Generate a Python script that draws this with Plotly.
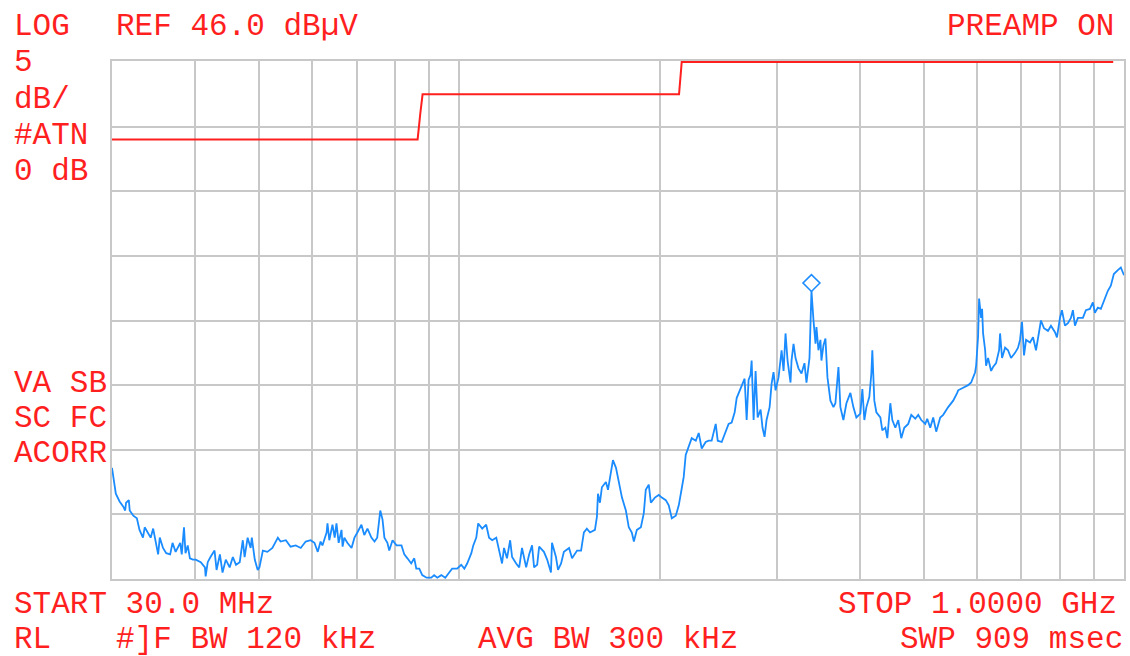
import math
import plotly.graph_objects as go

# ---- data read from the analyzer screen ----
# sweep 30 MHz .. 1 GHz, log frequency axis, REF 46 dBuV, 5 dB/div
band1_mhz = [30.0, 30.3, 30.4, 30.8, 31.2, 31.4, 31.5, 31.8, 31.9, 32.3, 32.7, 33.0, 33.4, 33.6, 34.0,
             34.3, 34.6, 34.9, 35.2, 35.4, 35.8, 36.2, 36.7, 37.0, 37.4, 38.0, 38.2, 38.5, 38.7, 39.0,
             39.3, 39.7, 40.1, 40.8, 41.4, 41.5, 41.8, 42.2, 42.8, 43.1, 43.6, 44.0, 44.5, 45.1, 45.6,
             46.1, 46.7, 47.2, 47.5, 48.0, 48.5, 48.7, 49.2, 49.7, 50.0, 50.6, 51.4, 52.3, 53.3, 53.8,
             54.8, 55.7, 56.7, 57.7, 58.7, 59.7, 60.5, 61.2, 61.8]
band1_dbuv = [14.6, 12.9, 12.6, 12.0, 11.6, 11.3, 11.9, 12.1, 11.3, 10.9, 10.7, 9.8, 9.2, 10.0, 9.6,
              9.2, 9.9, 8.9, 7.9, 9.2, 8.4, 8.0, 7.9, 8.8, 8.1, 8.8, 7.9, 10.0, 8.0, 8.6,
              7.6, 7.5, 7.5, 7.3, 6.9, 6.2, 7.3, 7.7, 8.2, 6.7, 7.9, 6.5, 7.5, 6.9, 7.7,
              7.1, 7.3, 9.0, 7.7, 9.2, 8.4, 9.2, 7.5, 6.7, 6.9, 8.2, 8.1, 8.4, 9.2, 8.9,
              9.0, 8.5, 8.6, 8.4, 8.9, 9.0, 8.8, 8.1, 8.9]

band2_mhz = [62.2, 63.1, 63.3, 63.7, 64.4, 64.9, 65.3, 65.8, 66.45, 66.7, 67.1, 67.8, 68.8, 69.5, 70.2,
             71.2, 71.9, 72.7, 73.7, 74.5, 75.2, 76.0, 76.6, 77.1, 77.9, 78.4, 79.3, 80.4, 81.8, 82.6,
             83.5, 84.6, 85.5, 86.1, 87.0, 87.9, 89.2, 90.7, 91.6, 92.6, 93.9, 95.2, 96.5, 97.5, 99.2,
             100.6, 101.7, 102.7, 104.2, 104.9, 106.0, 106.7, 108.2, 109.7, 110.8, 112.0, 113.6, 114.7,
             115.9, 116.7, 117.9, 119.2, 120.0, 121.7, 123.0, 124.2, 126.0, 127.3, 128.6, 129.5, 130.9]
band2_dbuv = [8.6, 9.6, 10.3, 9.0, 10.2, 9.2, 10.3, 8.8, 9.8, 8.5, 9.2, 8.8, 8.4, 9.2, 9.6,
              10.2, 9.4, 9.9, 9.2, 8.9, 9.2, 11.3, 10.6, 9.2, 8.8, 8.2, 9.0, 8.6, 8.6, 7.9,
              7.6, 7.2, 7.6, 6.8, 6.8, 6.3, 6.1, 6.1, 6.3, 6.1, 6.3, 6.1, 6.5, 6.8, 6.8,
              7.1, 6.8, 7.2, 8.0, 8.6, 9.2, 10.3, 9.9, 10.2, 9.2, 9.0, 9.2, 8.2,
              7.2, 8.4, 7.6, 9.0, 7.7, 7.2, 6.9, 8.4, 6.9, 7.9, 8.6, 6.9, 7.1]

band3_mhz = [131.8, 134.0, 135.5, 137.3, 137.8, 139.7, 140.7, 142.2, 143.6, 146.2, 147.7, 150.3, 152.4,
             153.9, 155.5, 157.2, 159.9, 161.0, 161.6, 162.7, 163.8, 166.1, 167.3, 169.0, 170.2, 172.0,
             173.1, 175.6, 178.0, 179.8, 181.7, 183.0, 184.9, 187.5, 189.4, 190.7, 192.7, 194.1, 196.8,
             199.5, 201.6, 204.4, 206.5, 208.7, 211.6, 213.8, 216.0, 217.5, 219.0, 221.3, 223.6, 226.8,
             229.1, 231.5, 234.7, 237.2, 239.6, 243.0, 244.7, 248.1, 251.5, 254.1, 256.8, 259.5, 261.3, 264.9]
band3_dbuv = [8.5, 8.1, 7.5, 6.5, 8.8, 7.7, 6.7, 7.2, 8.1, 8.4, 7.6, 8.2, 8.2,
              9.6, 9.9, 9.6, 9.8, 10.8, 12.6, 11.9, 13.1, 13.5, 12.9, 14.2, 15.2, 14.6,
              13.9, 12.3, 11.3, 10.0, 9.6, 8.9, 9.8, 10.0, 11.1, 12.9, 13.3, 11.9, 12.3,
              12.5, 12.3, 12.1, 11.7, 10.7, 10.9, 11.7, 13.0, 13.9, 15.6, 16.3, 16.9, 16.7,
              17.3, 16.1, 16.6, 16.7, 16.7, 18.0, 16.7, 16.6, 17.5, 18.0, 18.1, 18.9, 20.0, 20.7]

band4_mhz = [268.6, 270.5, 272.3, 274.2, 275.2, 277.1, 279.0, 281.0, 283.9, 285.8, 287.8, 289.8, 292.9,
             294.9, 296.9, 299.0, 302.1, 305.3, 307.4, 309.5, 311.7, 314.9, 316.0, 318.2, 320.4, 323.7,
             327.1, 330.5, 332.8, 336.3, 337.5, 338.6, 341.0, 343.4, 344.5, 346.9, 349.3, 350.5, 353.0,
             355.4, 357.9, 361.6, 365.4, 367.9, 371.8, 374.3, 378.2, 382.2, 387.5, 391.5, 395.6, 401.1,
             403.9, 406.7, 409.6, 413.8, 416.7, 418.1, 421.0, 424.0, 429.9, 432.8, 437.4, 440.4, 445.0,
             448.1, 452.8, 457.4, 462.2, 467.0, 473.5, 478.5, 485.2, 490.2, 495.3, 502.3, 505.7, 511.0,
             516.3, 521.7, 529.0, 534.5, 543.8, 553.3, 561.0]
band4_dbuv = [21.5, 18.3, 21.4, 21.8, 22.9, 18.3, 22.1, 18.5, 19.1, 17.7, 17.0, 18.3, 19.3,
              21.1, 22.0, 20.6, 21.6, 23.7, 22.1, 25.0, 22.9, 21.2, 22.9, 24.2, 23.1, 22.3,
              21.9, 22.7, 21.2, 23.1, 26.2, 28.3, 26.0, 24.2, 25.5, 23.7, 24.5, 22.9, 24.1,
              24.6, 21.6, 19.8, 19.3, 19.6, 22.4, 19.3, 18.3, 19.6, 20.4, 19.3, 18.5, 18.8,
              20.7, 18.3, 19.3, 20.1, 21.9, 23.7, 19.8, 18.9, 18.5, 17.5, 17.7, 16.9, 19.6,
              18.3, 17.7, 18.3, 16.9, 17.7, 18.0, 18.7, 18.4, 18.7, 18.3, 18.0, 18.4, 17.7,
              18.5, 17.4, 18.5, 18.7, 19.3, 19.8, 20.4]

band5_mhz = [562.9, 572.7, 582.7, 588.8, 597.0, 599.1, 603.2, 605.3, 609.5, 611.6, 613.7, 618.1, 620.1,
             624.4, 631.0, 635.3, 641.9, 648.7, 650.9, 655.4, 662.3, 669.1, 676.1, 685.6, 692.7, 697.5,
             702.3, 707.2, 712.2, 722.1, 729.6, 737.2, 742.3, 750.0, 757.9, 768.4, 776.4, 787.3, 792.7,
             801.0, 806.5, 815.0, 823.4, 832.0, 837.8, 843.7, 852.4, 867.3, 876.3, 888.5, 897.8, 904.1,
             913.4, 923.0, 935.9, 945.6, 955.4, 965.4, 978.8, 989.1, 1000.0]
band5_dbuv = [20.6, 20.8, 21.0, 21.2, 22.0, 22.5, 24.8, 27.7, 26.2, 26.9, 25.0, 23.7, 22.5,
              23.1, 22.1, 22.4, 22.7, 23.7, 25.0, 23.1, 23.9, 23.7, 23.1, 23.5, 23.9, 24.5,
              25.9, 23.3, 24.5, 24.3, 24.7, 23.7, 24.7, 26.0, 25.4, 25.2, 25.6, 25.1, 24.7,
              26.2, 26.8, 25.6, 25.8, 26.2, 26.8, 25.6, 26.2, 26.2, 26.8, 26.9, 27.4, 26.6,
              27.0, 26.9, 27.7, 28.3, 28.7, 29.6, 29.9, 30.1, 29.5]

# FCC Class B (3 m) limit line
limit_mhz = [30.0, 86.5, 87.3, 88.0, 214.0, 216.0, 960.0, 961.0]
limit_dbuv = [40.0, 40.0, 42.0, 43.5, 43.5, 46.0, 46.0, 54.0]

# peak marker
marker_mhz = [338.6]
marker_dbuv = [28.9]

# screen scale
ref_level = 46.0
db_per_div = 5.0
n_div = 8
start_mhz, stop_mhz = 30.0, 1000.0
x_grid_mhz = [40, 50, 60, 70, 80, 90, 100, 200, 300, 400, 500, 600, 700, 800, 900]

for f, l in [(band1_mhz, band1_dbuv), (band2_mhz, band2_dbuv), (band3_mhz, band3_dbuv),
             (band4_mhz, band4_dbuv), (band5_mhz, band5_dbuv)]:
    assert len(f) == len(l), (len(f), len(l))

trace_mhz = band1_mhz + band2_mhz + band3_mhz + band4_mhz + band5_mhz
trace_dbuv = band1_dbuv + band2_dbuv + band3_dbuv + band4_dbuv + band5_dbuv

RED = "#ff1f1f"
BLUE = "#1a8cff"
GRID = "#c8c8c8"
FONT = "Liberation Mono"
FS = 31

fig = go.Figure()
fig.add_trace(go.Scatter(x=limit_mhz, y=limit_dbuv, mode="lines",
                         line=dict(color=RED, width=2), hoverinfo="skip", showlegend=False))
fig.add_trace(go.Scatter(x=trace_mhz, y=trace_dbuv, mode="lines",
                         line=dict(color=BLUE, width=1.8), showlegend=False))
fig.add_trace(go.Scatter(x=marker_mhz, y=marker_dbuv, mode="markers",
                         marker=dict(symbol="diamond-open", size=13, color=BLUE,
                                     line=dict(width=1.6, color=BLUE)),
                         showlegend=False))

bottom = ref_level - db_per_div * n_div
L, R, T, B = 112, 4, 61, 77
W, H = 1130, 656
pw, ph = W - L - R, H - T - B


def px(xpix):
    return (xpix - L) / pw


def py(ypix):
    return (H - B - ypix) / ph


texts = [
    ("LOG", 12, 26, "left"),
    ("REF 46.0 dBµV", 114, 26, "left"),
    ("PREAMP ON", 1118, 26, "right"),
    ("5", 12, 63, "left"),
    ("dB/", 12, 100, "left"),
    ("#ATN", 12, 135, "left"),
    ("0 dB", 12, 171, "left"),
    ("VA SB", 12, 383, "left"),
    ("SC FC", 12, 418, "left"),
    ("ACORR", 12, 453, "left"),
    ("START 30.0 MHz", 12, 604, "left"),
    ("RL", 12, 639, "left"),
    ("#]F BW 120 kHz", 114, 639, "left"),
    ("AVG BW 300 kHz", 477, 639, "left"),
    ("STOP 1.0000 GHz", 1121, 604, "right"),
    ("SWP 909 msec", 1127, 639, "right"),
]
for t, x, y, anc in texts:
    fig.add_annotation(text=t, xref="paper", yref="paper", x=px(x), y=py(y),
                       xanchor=anc, yanchor="middle", showarrow=False,
                       font=dict(family=FONT, size=FS, color=RED))

fig.update_xaxes(type="log", range=[math.log10(start_mhz), math.log10(stop_mhz)],
                 tickvals=x_grid_mhz, showticklabels=False, ticks="",
                 showgrid=True, gridcolor=GRID, gridwidth=2,
                 showline=True, linecolor=GRID, linewidth=2, mirror=True,
                 zeroline=False, layer="below traces")
fig.update_yaxes(range=[bottom, ref_level + 0.08],
                 tickvals=[bottom + db_per_div * k for k in range(1, n_div)],
                 showticklabels=False, ticks="",
                 showgrid=True, gridcolor=GRID, gridwidth=2,
                 showline=True, linecolor=GRID, linewidth=2, mirror=True,
                 zeroline=False, layer="below traces")
fig.update_layout(width=W, height=H, margin=dict(l=L, r=R, t=T, b=B),
                  paper_bgcolor="white", plot_bgcolor="white")

fig.write_html("out.html",
               config={"displayModeBar": False},
               post_script="document.body.style.margin='0px';"
                           "document.body.style.overflow='hidden';")
